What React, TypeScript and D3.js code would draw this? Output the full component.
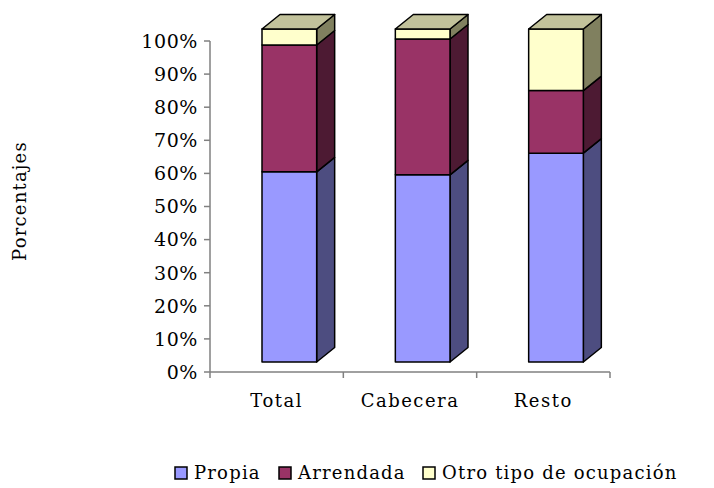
import React from "react";
import * as d3 from "d3";

const categories = ["Total", "Cabecera", "Resto"];
const seriesNames = ["Propia", "Arrendada", "Otro tipo de ocupación"];
const propia = [57.1, 56.2, 62.7];
const arrendada = [38.1, 40.8, 18.8];
const otro = [4.8, 3.0, 18.5];
const yTicks = [0, 10, 20, 30, 40, 50, 60, 70, 80, 90, 100];

const frontColors = ["#9999FF", "#993366", "#FFFFCC"];
const sideColors = ["#4D4D80", "#4D1A33", "#80805F"];
const topColors = ["#BFBFFF", "#C28AA6", "#C2C29B"];

const W = 714;
const H = 488;
const FONT = "'DejaVu Serif', serif";

export default function App() {
  const series = [propia, arrendada, otro];
  const axisY = d3.scaleLinear().domain([0, 100]).range([372, 41]);
  const barY = d3.scaleLinear().domain([0, 100]).range([362, 29]);
  const x = d3.scaleBand<string>().domain(categories).range([210, 610]);
  const bw = x.bandwidth();
  const dx = 18;
  const dy = -14.5;

  const bars: React.ReactNode[] = [];
  categories.forEach((c, i) => {
    const x0 = (x(c) as number) + bw * 0.39;
    const x1 = x0 + bw * 0.41;
    let cum = 0;
    series.forEach((s, k) => {
      const v = s[i];
      const yb = barY(cum);
      const yt = barY(cum + v);
      cum += v;
      const isTop = k === series.length - 1;
      bars.push(
        <g key={`${c}-${k}`} stroke="#000" strokeWidth={1.5} strokeLinejoin="round">
          <polygon
            points={`${x1},${yt} ${x1 + dx},${yt + dy} ${x1 + dx},${yb + dy} ${x1},${yb}`}
            fill={sideColors[k]}
          />
          <rect x={x0} y={yt} width={x1 - x0} height={yb - yt} fill={frontColors[k]} />
          {isTop && (
            <polygon
              points={`${x0},${yt} ${x0 + dx},${yt + dy} ${x1 + dx},${yt + dy} ${x1},${yt}`}
              fill={topColors[k]}
            />
          )}
        </g>
      );
    });
  });

  const legendX = [175, 279, 423];

  return (
    <svg width={W} height={H} style={{ position: "absolute", left: 0, top: 0, background: "#fff" }} fontFamily={FONT}>
      {/* Y axis */}
      <line x1={210} x2={210} y1={axisY(100)} y2={axisY(0)} stroke="#808080" strokeWidth={1.5} />
      {yTicks.map((t) => (
        <g key={t}>
          <line x1={204} x2={210} y1={axisY(t)} y2={axisY(t)} stroke="#808080" strokeWidth={1.5} />
          <text x={198} y={axisY(t)} dy="0.36em" textAnchor="end" fontSize={19} letterSpacing={0.6} fill="#000">
            {t}%
          </text>
        </g>
      ))}
      {/* X axis */}
      <line x1={210} x2={610} y1={axisY(0)} y2={axisY(0)} stroke="#808080" strokeWidth={1.5} />
      {categories.map((c, i) => (
        <line key={`t${i}`} x1={(x(c) as number)} x2={(x(c) as number)} y1={axisY(0)} y2={axisY(0) + 6} stroke="#808080" strokeWidth={1.5} />
      ))}
      <line x1={610} x2={610} y1={axisY(0)} y2={axisY(0) + 6} stroke="#808080" strokeWidth={1.5} />
      {categories.map((c) => (
        <text key={c} x={(x(c) as number) + bw / 2} y={407} textAnchor="middle" fontSize={18} letterSpacing={1.5} fill="#000">
          {c}
        </text>
      ))}
      {bars}
      {/* Y title */}
      <text transform="translate(26,201) rotate(-90)" textAnchor="middle" fontSize={18} letterSpacing={1.2} fill="#000">
        Porcentajes
      </text>
      {/* Legend */}
      {seriesNames.map((n, k) => (
        <g key={n}>
          <rect x={legendX[k]} y={467} width={12} height={12} fill={frontColors[k]} stroke="#000" strokeWidth={1.5} />
          <text x={legendX[k] + 19} y={479} fontSize={18} letterSpacing={1.2} fill="#000">
            {n}
          </text>
        </g>
      ))}
    </svg>
  );
}
